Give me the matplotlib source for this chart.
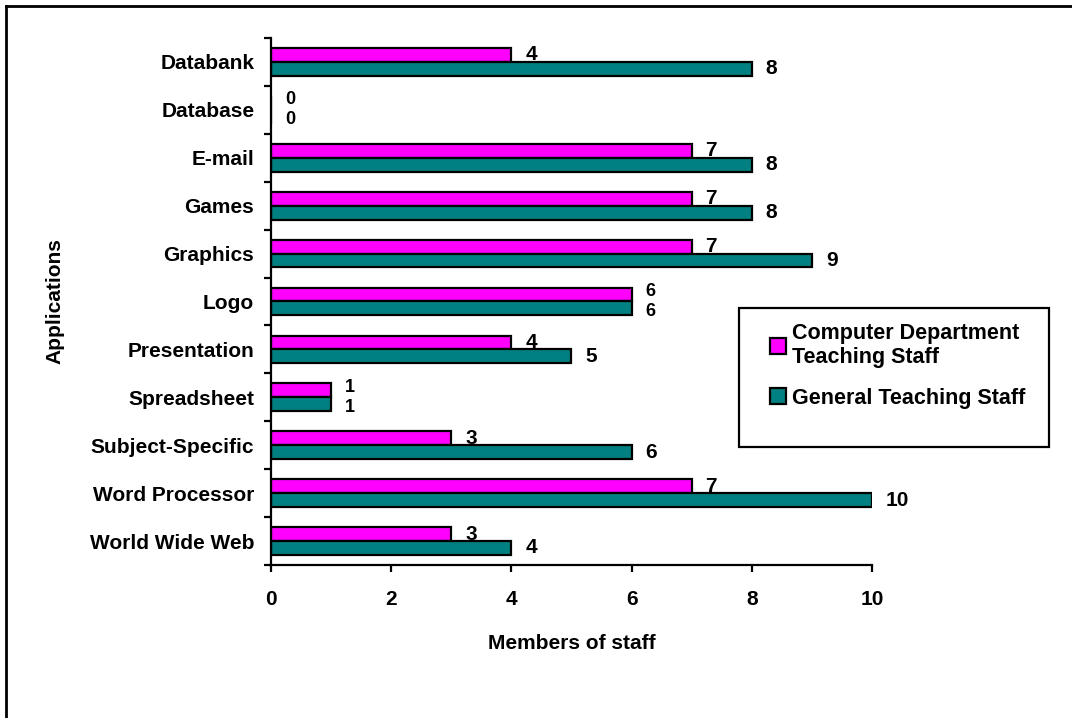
import numpy as np
import matplotlib
matplotlib.use('Agg')
import matplotlib.pyplot as plt
from matplotlib.patches import Rectangle
from matplotlib.lines import Line2D

plt.rcParams['font.family'] = ['Liberation Sans', 'DejaVu Sans']
plt.rcParams['font.weight'] = 'bold'

# Datos
aplicaciones = ['Databank', 'Database', 'E-mail', 'Games', 'Graphics', 'Logo',
                'Presentation', 'Spreadsheet', 'Subject-Specific',
                'Word Processor', 'World Wide Web']
computer_dept = [4, 0, 7, 7, 7, 6, 4, 1, 3, 7, 3]
general_staff = [8, 0, 8, 8, 9, 6, 5, 1, 6, 10, 4]
series_names = ['Computer Department\nTeaching Staff', 'General Teaching Staff']
x_ticks = [0, 2, 4, 6, 8, 10]

fig = plt.figure(figsize=(10.72, 7.18), dpi=100)
ax = fig.add_axes([0.2528, 0.2131, 0.5606, 0.734])

y = np.arange(len(aplicaciones))
h = 0.29
b1 = ax.barh(y - h / 2, computer_dept, height=h, color='#FF00FF',
             edgecolor='black', linewidth=1.6, label=series_names[0])
b2 = ax.barh(y + h / 2, general_staff, height=h, color='#008080',
             edgecolor='black', linewidth=1.6, label=series_names[1])

# Etiquetas de valores (si coinciden, se apilan en torno al límite entre barras)
for i, (c, g) in enumerate(zip(computer_dept, general_staff)):
    if c == g:
        ax.annotate(str(c), (c, i), xytext=(10, 1), textcoords='offset points',
                    va='bottom', ha='left', fontsize=13)
        ax.annotate(str(g), (g, i), xytext=(10, -1), textcoords='offset points',
                    va='top', ha='left', fontsize=13)
    else:
        ax.annotate(str(c), (c, i - h / 2), xytext=(10, 0),
                    textcoords='offset points', va='center', ha='left',
                    fontsize=15, fontweight='bold')
        ax.annotate(str(g), (g, i + h / 2), xytext=(10, 0),
                    textcoords='offset points', va='center', ha='left',
                    fontsize=15, fontweight='bold')

ax.set_xlim(0, 10)
ax.set_ylim(len(aplicaciones) - 0.5, -0.5)
ax.set_xticks(x_ticks)
ax.set_xticklabels([str(t) for t in x_ticks], fontsize=15, fontweight='bold')
ax.set_yticks(y)
ax.set_yticklabels(aplicaciones, fontsize=15, fontweight='bold')
ax.set_yticks(np.arange(len(aplicaciones) + 1) - 0.5, minor=True)
ax.tick_params(axis='y', which='major', length=0, pad=12)
ax.tick_params(axis='y', which='minor', length=5, width=1.6, direction='out')
ax.tick_params(axis='x', length=5, width=1.6, direction='out', pad=13)

for s in ['top', 'right']:
    ax.spines[s].set_visible(False)
for s in ['left', 'bottom']:
    ax.spines[s].set_linewidth(1.6)

ax.set_xlabel('Members of staff', fontsize=15, fontweight='bold', labelpad=18)
ax.set_ylabel('Applications', fontsize=15, fontweight='bold', labelpad=18)

# Leyenda con marco aparte
leg = fig.legend(loc='upper left', bbox_to_anchor=(0.704, 0.571), frameon=False,
                 prop={'size': 15.5, 'weight': 'bold'}, handlelength=0.75,
                 handleheight=0.75, handletextpad=0.3, labelspacing=0.9,
                 borderpad=0.2)
fig.add_artist(Rectangle((739 / 1072, 1 - 447 / 718), 310 / 1072, 139 / 718,
                         transform=fig.transFigure, fill=False,
                         edgecolor='black', linewidth=1.6))

# Borde exterior (solo arriba e izquierda)
fig.add_artist(Line2D([6 / 1072, 1], [1 - 6 / 718, 1 - 6 / 718],
                      transform=fig.transFigure, color='black', linewidth=2))
fig.add_artist(Line2D([6 / 1072, 6 / 1072], [0, 1 - 6 / 718],
                      transform=fig.transFigure, color='black', linewidth=2))

fig.savefig('out.png', dpi=100)
